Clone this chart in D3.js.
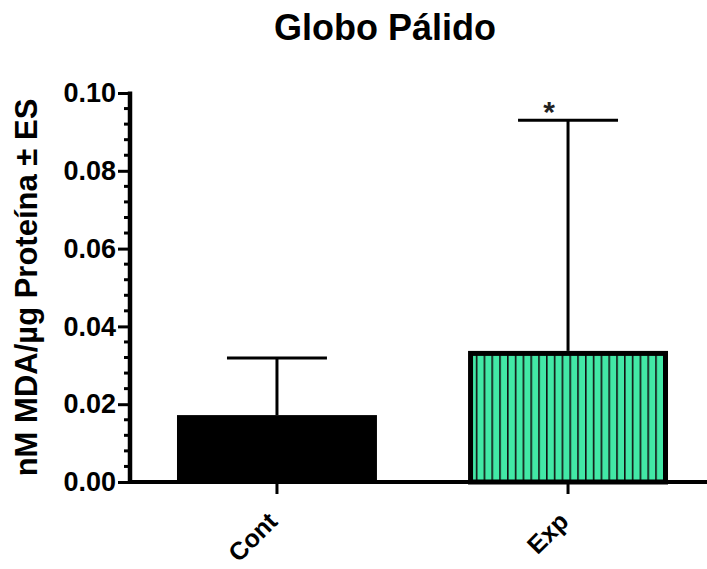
<!DOCTYPE html>
<html>
<head>
<meta charset="utf-8">
<script src="https://cdn.jsdelivr.net/npm/d3@7"></script>
<style>
  body { margin: 0; background: #fff; }
  text { font-family: "Liberation Sans", Arial, sans-serif; font-weight: bold; }
</style>
</head>
<body>
<div id="chart"></div>
<script>
//chart values
const groups = ["Cont", "Exp"];
const means = [0.0172, 0.0337];
const errors = [0.0147, 0.0593];
const signif = ["", "*"];
const yTicks = [0, 0.02, 0.04, 0.06, 0.08, 0.10];

const width = 707;
const height = 569;
const margin = { top: 93, right: 0, bottom: 87, left: 130 };

const svg = d3.select("#chart")
  .append("svg")
  .attr("width", width)
  .attr("height", height);

//pattern for the striped bar
const defs = svg.append("defs");
const pat = defs.append("pattern")
  .attr("id", "stripes")
  .attr("patternUnits", "userSpaceOnUse")
  .attr("width", 7.8)
  .attr("height", 10);
pat.append("rect").attr("width", 7.8).attr("height", 10).attr("fill", "#42e8a6");
pat.append("rect").attr("x", 0).attr("width", 1.6).attr("height", 10).attr("fill", "#111");

const y = d3.scaleLinear()
  .domain([0, 0.10])
  .range([height - margin.bottom, margin.top]);

const x = d3.scaleBand()
  .domain(groups)
  .range([margin.left + 1, 714])
  .paddingInner(0.313)
  .paddingOuter(0.158);

//bars
svg.selectAll(".bar")
  .data(groups)
  .enter()
  .append("rect")
  .attr("class", "bar")
  .attr("x", (d, i) => x(d) + (i ? 2.5 : 0))
  .attr("y", (d, i) => y(means[i]) + (i ? 2.5 : 0))
  .attr("width", (d, i) => x.bandwidth() - (i ? 5 : 0))
  .attr("height", (d, i) => y(0) - y(means[i]) - (i ? 2.5 : 0))
  .attr("fill", (d, i) => i ? "url(#stripes)" : "#000")
  .attr("stroke", (d, i) => i ? "#000" : "none")
  .attr("stroke-width", 5);

//error bars
const cap = x.bandwidth() / 2;
groups.forEach((g, i) => {
  const cx = x(g) + x.bandwidth() / 2;
  svg.append("line")
    .attr("x1", cx).attr("x2", cx)
    .attr("y1", y(means[i])).attr("y2", y(means[i] + errors[i]))
    .attr("stroke", "#000").attr("stroke-width", 3);
  svg.append("line")
    .attr("x1", cx - cap / 2).attr("x2", cx + cap / 2)
    .attr("y1", y(means[i] + errors[i])).attr("y2", y(means[i] + errors[i]))
    .attr("stroke", "#000").attr("stroke-width", 3);
  if (signif[i]) {
    svg.append("text")
      .attr("x", cx - 19)
      .attr("y", y(means[i] + errors[i]) + 2)
      .attr("text-anchor", "middle")
      .attr("font-size", 30)
      .attr("fill", "#222")
      .text(signif[i]);
  }
});

//y axis with minor ticks
const yAxis = d3.axisLeft(y)
  .tickValues(yTicks)
  .tickFormat(d3.format(".2f"))
  .tickSize(12)
  .tickPadding(2);
const gy = svg.append("g")
  .attr("transform", `translate(${margin.left},0)`)
  .call(yAxis);
gy.select(".domain").remove();
gy.selectAll(".tick line").attr("stroke-width", 3);
gy.selectAll(".tick text").attr("font-size", 27).attr("fill", "#000");

const minor = d3.range(0, 0.1001, 0.004).filter(v => Math.round(v * 1000) % 20 !== 0);
svg.selectAll(".minor")
  .data(minor)
  .enter()
  .append("line")
  .attr("x1", margin.left - 6).attr("x2", margin.left)
  .attr("y1", d => y(d)).attr("y2", d => y(d))
  .attr("stroke", "#000").attr("stroke-width", 3);

svg.append("line")
  .attr("x1", margin.left).attr("x2", margin.left)
  .attr("y1", y(0.10) - 1.5).attr("y2", y(0) + 2)
  .attr("stroke", "#000").attr("stroke-width", 4.5);

//x axis
svg.append("line")
  .attr("x1", margin.left - 2).attr("x2", width)
  .attr("y1", y(0)).attr("y2", y(0))
  .attr("stroke", "#000").attr("stroke-width", 4);

const gx = svg.selectAll(".xtick")
  .data(groups)
  .enter()
  .append("g")
  .attr("transform", d => `translate(${x(d) + x.bandwidth() / 2},${y(0)})`);
gx.append("line")
  .attr("y1", 0).attr("y2", 12)
  .attr("stroke", "#000").attr("stroke-width", 3);
gx.append("text")
  .attr("transform", "translate(2,41) rotate(-45)")
  .attr("text-anchor", "end")
  .attr("font-size", 25)
  .text(d => d);

//title
svg.append("text")
  .attr("x", 385)
  .attr("y", 40)
  .attr("text-anchor", "middle")
  .attr("font-size", 36)
  .text("Globo Pálido");

//y label
svg.append("text")
  .attr("transform", `translate(37,${(y(0) + y(0.10)) / 2}) rotate(-90)`)
  .attr("text-anchor", "middle")
  .attr("font-size", 31)
  .text("nM MDA/µg Proteína ± ES");
</script>
</body>
</html>
